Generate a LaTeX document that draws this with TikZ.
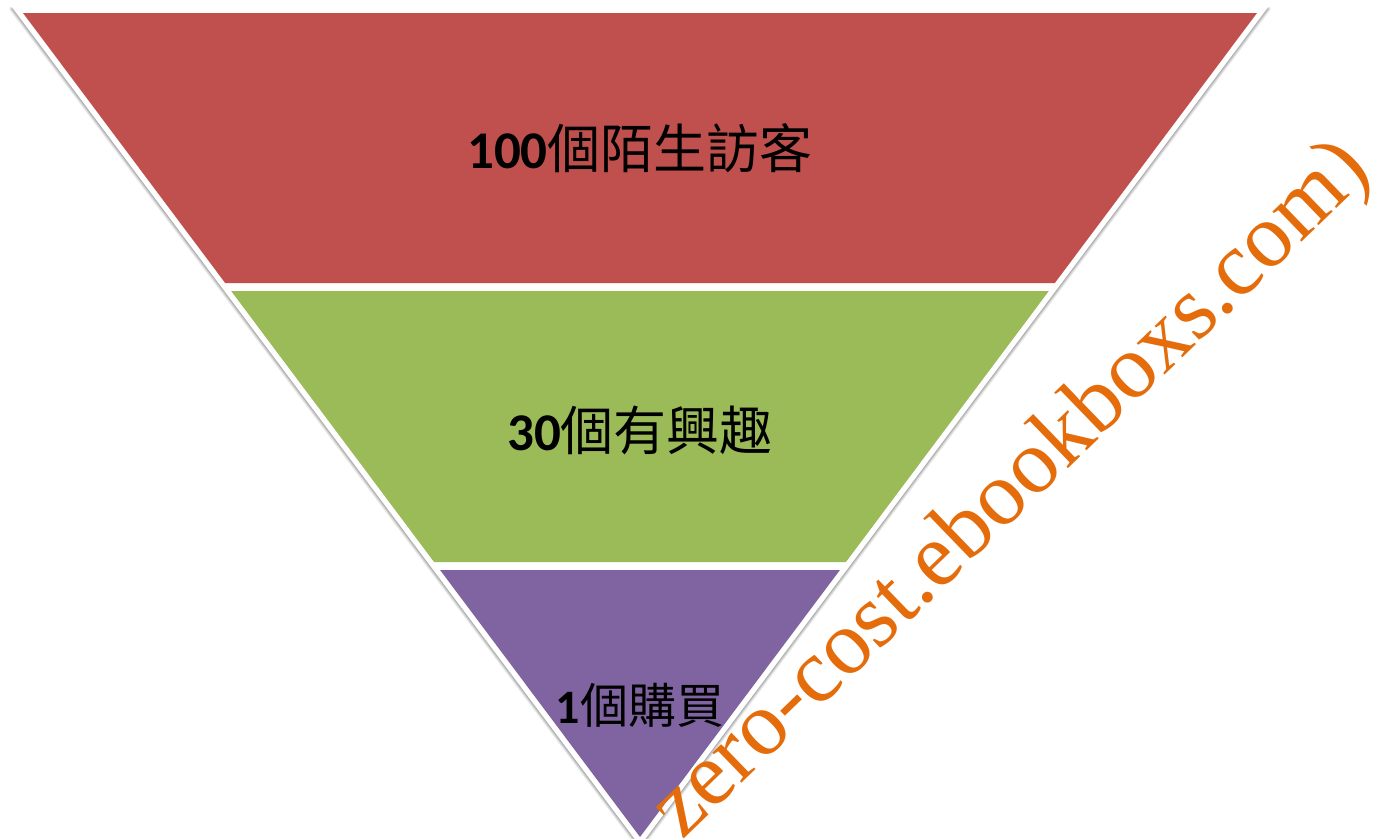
\documentclass[tikz,border=0pt]{standalone}
\usepackage{fontspec}
\newfontfamily\cjk{Noto Sans CJK TC}
\newfontfamily\digitfont{Carlito}
\newfontfamily\wmfont{Liberation Serif}
\definecolor{bandred}{RGB}{192,80,77}
\definecolor{bandgreen}{RGB}{155,187,89}
\definecolor{bandpurple}{RGB}{128,100,162}
\definecolor{wmorange}{RGB}{228,108,10}
\tikzset{
  band/.style={draw=none},
  label/.style={anchor=base, inner sep=0pt, text=black},
}
\newcommand{\xl}[1]{23+0.7488*(#1-13)}
\newcommand{\xr}[1]{1257-0.7488*(#1-13)}
\begin{document}
\begin{tikzpicture}[x=1pt,y=-1pt]
\useasboundingbox (0,0) rectangle (1391,838);
\fill[white] (0,0) rectangle (1391,838);
% soft shadow of outer frame
\foreach \o/\a in {6/0.04,5/0.05,4/0.06,3/0.07,2/0.08,1/0.08}{
  \fill[black,opacity=\a] (11-\o*0.4,6+\o*0.5) -- (1269+\o*0.4,6+\o*0.5) -- (640,846+\o) -- cycle;
}
\fill[white] (11,6) -- (1269,6) -- (640,846) -- cycle;
% bands
\fill[bandred] ({\xl{13}},13) -- ({\xr{13}},13) -- ({\xr{283}},283) -- ({\xl{283}},283) -- cycle;
\fill[bandgreen] ({\xl{291}},291) -- ({\xr{291}},291) -- ({\xr{562}},562) -- ({\xl{562}},562) -- cycle;
\fill[bandpurple] ({\xl{570}},570) -- ({\xr{570}},570) -- (640,837) -- cycle;
% labels
\node[label, font=\fontsize{53}{60}\selectfont] (t1) at (640,168) {{\digitfont\bfseries 100}{\cjk 個陌生訪客}};
\node[label, font=\fontsize{53}{60}\selectfont] (t2) at (640,450) {{\digitfont\bfseries 30}{\cjk 個有興趣}};
\node[label, font=\fontsize{48}{54}\selectfont] (t3) at (640,723) {{\digitfont\bfseries 1}{\cjk 個購買}};
% watermark
\node[anchor=base, inner sep=0pt, rotate=44, text=wmorange, font=\wmfont\fontsize{91}{100}\selectfont] (wm) at (1028,507) {zero-cost.ebookboxs.com)};
\end{tikzpicture}
\end{document}
